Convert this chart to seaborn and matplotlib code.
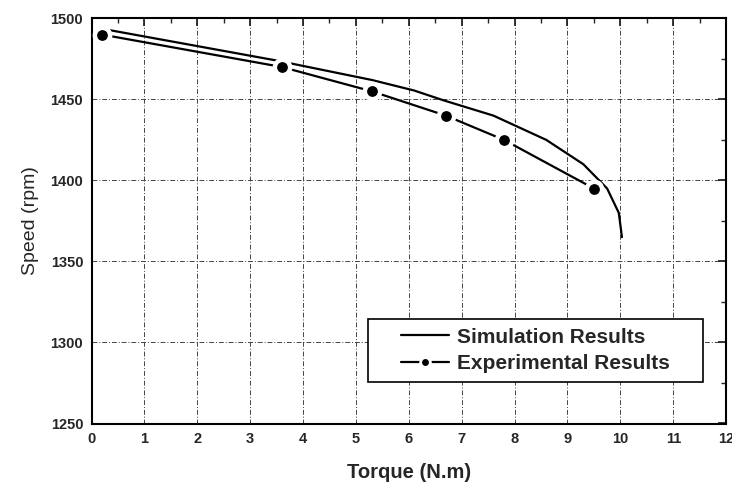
import matplotlib
matplotlib.use("Agg")
import matplotlib.pyplot as plt
import seaborn as sns
import pandas as pd
from matplotlib.ticker import MultipleLocator
from matplotlib.patches import Rectangle

sim_torque = [0.3, 3.5, 5.3, 6.1, 6.65, 7.6, 8.6, 9.3, 9.75, 9.97, 10.03]
sim_speed = [1493, 1474, 1462, 1455.5, 1449.5, 1440, 1425, 1410, 1395, 1380, 1365]
exp_torque = [0.2, 3.6, 5.3, 6.7, 7.8, 9.5]
exp_speed = [1490, 1470, 1455, 1440, 1425, 1395]
x_ticks = list(range(0, 13))
y_ticks = [1250, 1300, 1350, 1400, 1450, 1500]

sns.set_style("white")
plt.rcParams['font.family'] = ['Liberation Sans Narrow', 'Liberation Sans', 'DejaVu Sans']

fig = plt.figure(figsize=(7.32, 4.84), dpi=100)
ax = fig.add_axes([0.125, 0.125, 0.867, 0.837])

sim_df = pd.DataFrame({"Torque": sim_torque, "Speed": sim_speed})
exp_df = pd.DataFrame({"Torque": exp_torque, "Speed": exp_speed})

sns.lineplot(data=sim_df, x="Torque", y="Speed", ax=ax, color="black", lw=1.6,
             sort=False, label="Simulation Results", zorder=3)
sns.lineplot(data=exp_df, x="Torque", y="Speed", ax=ax, color="black", lw=1.6,
             sort=False, marker="o", markersize=11, markeredgecolor="white",
             markeredgewidth=3.2, label="Experimental Results", zorder=4)

ax.set_xlim(0, 12)
ax.set_ylim(1250, 1500)
ax.set_xticks(x_ticks)
ax.set_yticks(y_ticks)
ax.xaxis.set_minor_locator(MultipleLocator(0.5))
ax.yaxis.set_minor_locator(MultipleLocator(25))
ax.tick_params(which="major", direction="in", length=6, width=1.3,
               top=True, right=True, labelsize=10.5, pad=6)
ax.tick_params(which="minor", direction="in", length=3.5, width=1.0,
               top=True, right=True)
for lab in ax.get_xticklabels() + ax.get_yticklabels():
    lab.set_fontweight("bold")

ax.grid(True, which="major", color="#444444", linestyle=(0, (5, 2, 1, 2)), lw=0.7)
for s in ax.spines.values():
    s.set_linewidth(1.5)
    s.set_color("black")

ax.set_xlabel("Torque (N.m)", fontsize=14.5, fontweight="bold", labelpad=12,
              family=['Liberation Sans', 'DejaVu Sans'])
ax.set_ylabel("Speed (rpm)", fontsize=14, labelpad=8,
              family=['Liberation Sans', 'DejaVu Sans'])

# legend frame drawn as a rectangle, legend content centered in it
x0, y0, x1, y1 = 0.435, 0.103, 0.964, 0.2585
ax.add_patch(Rectangle((x0, y0), x1 - x0, y1 - y0, transform=ax.transAxes,
                       facecolor="white", edgecolor="black", lw=1.2, zorder=5))
handles, labels = ax.get_legend_handles_labels()
leg = ax.legend(handles, labels, loc="center",
                bbox_to_anchor=((x0 + x1) / 2, (y0 + y1) / 2),
                frameon=False,
                prop={"weight": "bold", "size": 15, "family": ['Liberation Sans', 'DejaVu Sans']},
                handlelength=2.3, borderpad=0.0, labelspacing=0.35,
                handletextpad=0.35, borderaxespad=0)
leg.set_zorder(6)
for h in leg.legend_handles:
    h.set_markersize(7)
    h.set_markeredgewidth(2)

fig.savefig("out.png", dpi=100)
